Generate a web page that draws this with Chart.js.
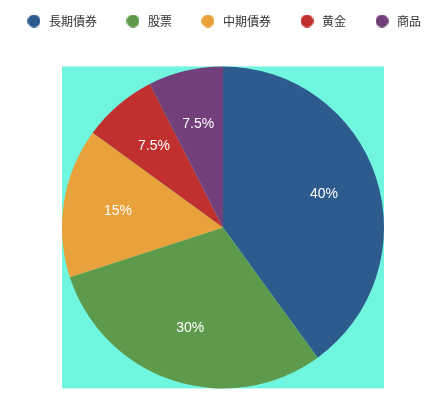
<!DOCTYPE html>
<html>
<head>
<meta charset="utf-8">
<script src="https://cdn.jsdelivr.net/npm/chart.js@4/dist/chart.umd.min.js"></script>
<style>
  html, body { margin: 0; padding: 0; background: #fff; }
  #wrap { width: 446px; height: 407px; }
</style>
</head>
<body>
<div id="wrap"><canvas id="pie"></canvas></div>
<script>
const labels = ["長期債券", "股票", "中期債券", "黄金", "商品"];
const values = [40, 30, 15, 7.5, 7.5];
const colors = ["#2e5b8e", "#5e9a4b", "#e9a23b", "#c1302f", "#723f7b"];

// small round legend markers
function makeDot(color) {
  const c = document.createElement("canvas");
  c.width = 13;
  c.height = 13;
  const g = c.getContext("2d");
  g.fillStyle = color;
  g.beginPath();
  g.arc(6.5, 6.5, 6.5, 0, Math.PI * 2);
  g.fill();
  return c;
}
const dots = colors.map(makeDot);

// cyan square behind the pie, sized from the arc element
const squareBg = {
  id: "squareBg",
  beforeDatasetsDraw(chart) {
    const arc = chart.getDatasetMeta(0).data[0];
    if (!arc) return;
    const { x, y, outerRadius } = arc.getProps(["x", "y", "outerRadius"], true);
    const c = chart.ctx;
    c.save();
    c.fillStyle = "#70f6df";
    c.fillRect(x - outerRadius, y - outerRadius, outerRadius * 2, outerRadius * 2);
    c.restore();
  }
};

// percentage labels inside slices
const sliceLabels = {
  id: "sliceLabels",
  afterDatasetsDraw(chart) {
    const meta = chart.getDatasetMeta(0);
    const total = values.reduce((a, b) => a + b, 0);
    const c = chart.ctx;
    c.save();
    c.fillStyle = "#fff";
    c.font = "14px 'Liberation Sans', Arial, sans-serif";
    c.textAlign = "center";
    c.textBaseline = "middle";
    meta.data.forEach((arc, i) => {
      const p = arc.getProps(["x", "y", "startAngle", "endAngle", "outerRadius"], true);
      const mid = (p.startAngle + p.endAngle) / 2;
      const r = p.outerRadius * 0.66;
      const pct = Math.round(values[i] / total * 1000) / 10;
      c.fillText(pct + "%", p.x + Math.cos(mid) * r, p.y + Math.sin(mid) * r);
    });
    c.restore();
  }
};

new Chart(document.getElementById("pie"), {
  type: "pie",
  data: {
    labels,
    datasets: [{
      data: values,
      backgroundColor: colors,
      borderWidth: 0,
      radius: 161
    }]
  },
  options: {
    responsive: true,
    maintainAspectRatio: false,
    animation: false,
    layout: { padding: { top: -12, bottom: 0, left: -6, right: -6 } },
    plugins: {
      tooltip: { enabled: false },
      // empty spacer between legend and pie
      subtitle: {
        display: true,
        text: "",
        position: "top",
        weight: 500,
        padding: 0,
        font: { size: 9 }
      },
      legend: {
        position: "top",
        labels: {
          usePointStyle: true,
          pointStyleWidth: 18,
          boxHeight: 12,
          padding: 27,
          color: "#333",
          font: { size: 12, family: "'Noto Sans CJK JP', sans-serif" },
          generateLabels(chart) {
            const items = Chart.overrides.doughnut.plugins.legend.labels.generateLabels(chart);
            items.forEach((it, i) => { it.pointStyle = dots[i]; });
            return items;
          }
        }
      }
    }
  },
  plugins: [squareBg, sliceLabels]
});
</script>
</body>
</html>
